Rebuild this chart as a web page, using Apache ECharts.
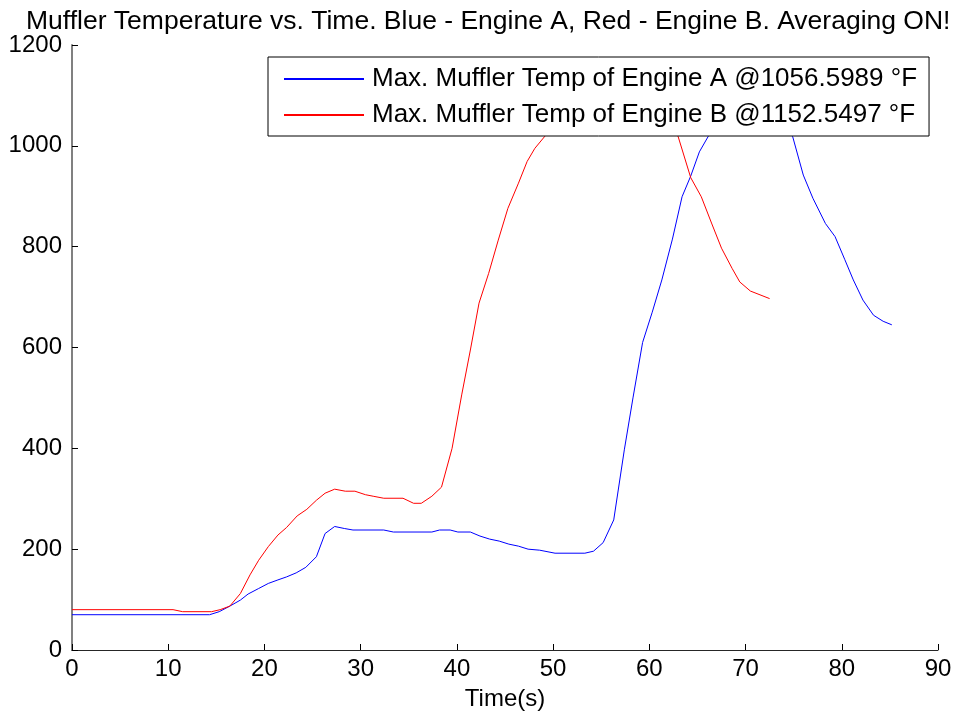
<!DOCTYPE html>
<html>
<head>
<meta charset="utf-8">
<script src="https://cdn.jsdelivr.net/npm/echarts@6/dist/echarts.min.js"></script>
<style>html,body{margin:0;padding:0;background:#fff}#c{width:959px;height:717px}</style>
</head>
<body>
<div id="c"></div>
<script>
const titleText = 'Muffler Temperature vs. Time. Blue - Engine A, Red - Engine B. Averaging ON!';
const xLabel = 'Time(s)';
const nameA = 'Max. Muffler Temp of Engine A @1056.5989 \u00B0F';
const nameB = 'Max. Muffler Temp of Engine B @1152.5497 \u00B0F';

const timeA = [0,14.3,15.3,16.4,17.5,18.3,19.4,20.4,21.4,22.3,23.3,24.3,25.4,26.3,27.3,28.3,29.2,32.4,33.4,37.4,38.2,39.3,40.1,41.4,42.4,43.4,44.4,45.4,46.4,47.4,48.6,50.2,53.3,54.2,55.2,56.3,57.4,58.3,59.3,60.3,61.3,62.4,63.4,64.3,65.2,66.1,67,68,69,70,71,72,73,74,74.9,76.0,77.0,78.3,79.3,80.3,81.2,82.2,83.3,84.3,85.2];
const tempA = [70,70,76,87,99,111,122,132,139,145,153,164,185,231,245,241,238,238,234,234,238,238,234,234,226,220,216,210,206,200,198,192,192,196,213,258,397,500,610,670,734,815,899,940,988,1018,1040,1052,1056.6,1054,1050,1048,1045,1035,1018,942,896,846,820,775,734,694,664,652,645];

const timeB = [0,10.5,11.5,14.5,15.4,16.4,17.5,18.5,19.4,20.4,21.4,22.3,23.4,24.4,25.4,26.3,27.3,28.4,29.4,30.5,31.3,32.4,34.4,35.5,36.3,37.4,38.4,39.5,40.5,41.4,42.3,43.3,44.3,45.3,46.4,47.3,48.1,49.1,50,51,52,53,54,55,56,57,58,59,60,61,62,63.0,64.3,65.4,66.5,67.5,68.6,69.4,70.5,72.5];
const tempB = [80,80,76,76,80,87,112,149,178,205,228,243,266,279,297,311,319,315,315,308,305,301,301,291,291,305,323,400,506,595,688,747,813,876,926,969,995,1018,1040,1070,1100,1128,1145,1152.5,1150,1146,1138,1122,1100,1075,1048,1018,937,899,845,797,757,730,712,697];

const xTicks = {min: 0, max: 90, interval: 10};
const yTicks = {min: 0, max: 1200, interval: 200};

const FONT = '"Liberation Sans", Arial, sans-serif';
const pairs = (t, v) => t.map((x, i) => [x, v[i]]);

const chart = echarts.init(document.getElementById('c'), null, {renderer: 'canvas'});
chart.setOption({
  animation: false,
  backgroundColor: '#ffffff',
  title: {
    text: titleText,
    left: 21, top: 3,
    textStyle: {fontFamily: FONT, fontSize: 26.5, fontWeight: 'normal', color: '#000'}
  },
  grid: {left: 72, right: 21, top: 45, bottom: 67, containLabel: false, outerBoundsMode: 'none'},
  legend: {
    orient: 'vertical',
    left: 268, top: 57,
    backgroundColor: '#fff',
    borderColor: '#000',
    borderWidth: 1,
    padding: [9, 12, 8, 16],
    itemGap: 10,
    itemWidth: 80,
    itemHeight: 2,
    icon: 'rect',
    textStyle: {fontFamily: FONT, fontSize: 26, color: '#000', lineHeight: 24, padding: [0, 0, 0, 3]},
    data: [nameA, nameB]
  },
  xAxis: {
    type: 'value', min: xTicks.min, max: xTicks.max, interval: xTicks.interval,
    name: xLabel, nameLocation: 'middle', nameGap: 37,
    nameTextStyle: {fontFamily: FONT, fontSize: 24, color: '#000'},
    axisLine: {show: true, lineStyle: {color: '#262626', width: 1}},
    axisTick: {show: true, inside: true, length: 6, lineStyle: {color: '#000'}},
    axisLabel: {fontFamily: FONT, fontSize: 24, color: '#000', margin: 7},
    splitLine: {show: false}
  },
  yAxis: {
    type: 'value', min: yTicks.min, max: yTicks.max, interval: yTicks.interval,
    axisLine: {show: true, lineStyle: {color: '#808080', width: 2}},
    axisTick: {show: true, inside: true, length: 6, lineStyle: {color: '#000'}},
    axisLabel: {fontFamily: FONT, fontSize: 24, color: '#000', margin: 10, formatter: v => String(v)},
    splitLine: {show: false}
  },
  series: [
    {name: nameA, type: 'line', data: pairs(timeA, tempA), showSymbol: false, symbol: 'none',
     lineStyle: {color: '#0000ff', width: 1}, itemStyle: {color: '#0000ff'}},
    {name: nameB, type: 'line', data: pairs(timeB, tempB), showSymbol: false, symbol: 'none',
     lineStyle: {color: '#ff0000', width: 1}, itemStyle: {color: '#ff0000'}}
  ]
});
</script>
</body>
</html>
